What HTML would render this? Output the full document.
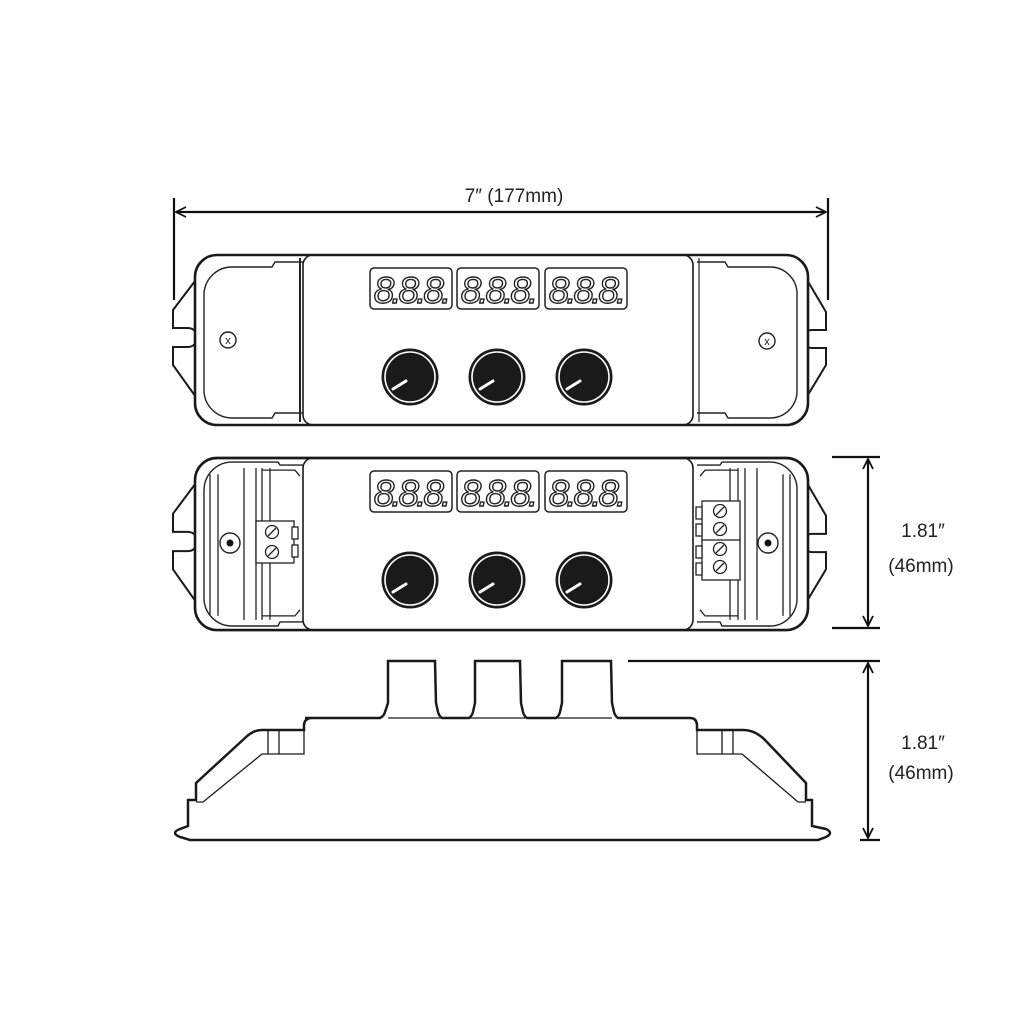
<!DOCTYPE html>
<html><head><meta charset="utf-8"><style>
html,body{margin:0;padding:0;background:#fff}
svg{display:block}
text{font-family:"Liberation Sans",sans-serif}
</style></head><body>
<svg width="1024" height="1024" viewBox="0 0 1024 1024" xmlns="http://www.w3.org/2000/svg">
<defs>
<marker id="ar" markerWidth="12" markerHeight="12" refX="11" refY="6" orient="auto-start-reverse" markerUnits="userSpaceOnUse">
<path d="M1,1 L11,6 L1,11" fill="none" stroke="#111" stroke-width="1.8"/>
</marker>
<g id="disp">
<rect x="0" y="0" width="82" height="41" rx="4" fill="#fff" stroke="#222" stroke-width="1.5"/>
<text x="41" y="35" text-anchor="middle" font-size="37" font-style="italic" fill="#fff" stroke="#222" stroke-width="1.4" letter-spacing="-3" transform="scale(1,1)">8.8.8.</text>
</g>
<g id="knob">
<circle r="28.5" fill="#1a1a1a"/>
<circle r="25" fill="none" stroke="#fff" stroke-width="1.6"/>
<circle r="22.5" fill="#1a1a1a"/>
<line x1="-4" y1="4" x2="-17" y2="12" stroke="#fff" stroke-width="3" stroke-linecap="round"/>
</g>
<g id="body" fill="none" stroke="#1a1a1a">
<path d="M198,22 L173,55 L173,73 L188,73 A9,9 0 0 1 188,92 L173,92 L173,110 L198,145" stroke-width="2"/>
<path d="M800,13 L826,57 L826,75 L812,75 A9,9 0 0 0 812,93 L826,93 L826,110 L800,153" stroke-width="2"/>
<rect x="195" y="0" width="613" height="170" rx="22" fill="#fff" stroke-width="2.6"/>
<rect x="303" y="0" width="390" height="170" rx="10" stroke-width="1.6"/>
</g>
</defs>

<!-- width dimension -->
<line x1="174" y1="198" x2="174" y2="300" stroke="#111" stroke-width="2.2"/>
<line x1="828" y1="198" x2="828" y2="300" stroke="#111" stroke-width="2.2"/>
<line x1="176" y1="212" x2="826" y2="212" stroke="#111" stroke-width="2.2" marker-start="url(#ar)" marker-end="url(#ar)"/>
<text x="514" y="202" text-anchor="middle" font-size="19" fill="#222">7″ (177mm)</text>

<!-- TOP VIEW -->
<g transform="translate(0,255)">
<use href="#body"/>
<path d="M303,7 L275,7 L272,12 L232,12 A28,28 0 0 0 204,40 L204,135 A28,28 0 0 0 232,163 L272,163 L275,158 L303,158" fill="none" stroke="#222" stroke-width="1.4"/>
<line x1="300" y1="3" x2="300" y2="167" stroke="#222" stroke-width="2"/>
<path d="M697,7 L725,7 L728,12 L770,12 A27,27 0 0 1 797,40 L797,135 A27,27 0 0 1 770,163 L728,163 L725,158 L697,158" fill="none" stroke="#222" stroke-width="1.4"/>
<line x1="699" y1="3" x2="699" y2="167" stroke="#222" stroke-width="1.2"/>
<circle cx="228" cy="85" r="8" fill="#fff" stroke="#222" stroke-width="1.4"/>
<text x="228" y="89" text-anchor="middle" font-size="11" fill="#222">x</text>
<circle cx="767" cy="86" r="8" fill="#fff" stroke="#222" stroke-width="1.4"/>
<text x="767" y="90" text-anchor="middle" font-size="11" fill="#222">x</text>
</g>
<use href="#disp" x="370" y="268"/>
<use href="#disp" x="457" y="268"/>
<use href="#disp" x="545" y="268"/>
<use href="#knob" x="410" y="377"/>
<use href="#knob" x="497" y="377"/>
<use href="#knob" x="584" y="377"/>

<!-- MIDDLE VIEW -->
<g transform="translate(0,458) scale(1,1.012)">
<use href="#body"/>
<path d="M303,7 L280,7 L278,4 L232,4 A28,28 0 0 0 204,32 L204,140 A28,28 0 0 0 232,166 L278,166 L280,162 L303,162" fill="none" stroke="#222" stroke-width="1.4"/>
<path d="M210,16 L210,156 M218,16 L218,156 M244,10 L244,160 M256,10 L256,160 M262,10 L262,160 M270,10 L270,160 M262,12 L295,12 L300,18 M262,156 L295,156 L300,150" fill="none" stroke="#222" stroke-width="1.3"/>
<path d="M697,7 L720,7 L722,4 L770,4 A27,27 0 0 1 797,32 L797,140 A27,27 0 0 1 770,166 L722,166 L720,162 L697,162" fill="none" stroke="#222" stroke-width="1.4"/>
<path d="M790,16 L790,156 M783,16 L783,156 M757,10 L757,160 M745,10 L745,160 M738,10 L738,160 M730,10 L730,160 M738,12 L705,12 L700,18 M738,156 L705,156 L700,150" fill="none" stroke="#222" stroke-width="1.3"/>
</g>
<circle cx="230" cy="543" r="10" fill="#fff" stroke="#222" stroke-width="1.4"/>
<circle cx="230" cy="543" r="3.5" fill="#111"/>
<circle cx="768" cy="543" r="10" fill="#fff" stroke="#222" stroke-width="1.4"/>
<circle cx="768" cy="543" r="3.5" fill="#111"/>
<g fill="#fff" stroke="#222" stroke-width="1.3">
<rect x="256" y="521" width="38" height="42"/>
<rect x="292" y="527" width="6" height="12"/>
<rect x="292" y="545" width="6" height="12"/>
<circle cx="272" cy="532" r="6.5"/><circle cx="272" cy="552" r="6.5"/>
<line x1="268" y1="536" x2="276" y2="528"/><line x1="268" y1="556" x2="276" y2="548"/>
</g>
<g fill="#fff" stroke="#222" stroke-width="1.3">
<rect x="702" y="501" width="38" height="40"/>
<rect x="702" y="540" width="38" height="40"/>
<rect x="696" y="507" width="6" height="12"/><rect x="696" y="524" width="6" height="12"/>
<rect x="696" y="546" width="6" height="12"/><rect x="696" y="563" width="6" height="12"/>
<circle cx="720" cy="511" r="6.5"/><circle cx="720" cy="529" r="6.5"/>
<circle cx="720" cy="549" r="6.5"/><circle cx="720" cy="567" r="6.5"/>
<line x1="716" y1="515" x2="724" y2="507"/><line x1="716" y1="533" x2="724" y2="525"/>
<line x1="716" y1="553" x2="724" y2="545"/><line x1="716" y1="571" x2="724" y2="563"/>
</g>
<use href="#disp" x="370" y="471"/>
<use href="#disp" x="457" y="471"/>
<use href="#disp" x="545" y="471"/>
<use href="#knob" x="410" y="580"/>
<use href="#knob" x="497" y="580"/>
<use href="#knob" x="584" y="580"/>

<!-- height dimension 1 -->
<line x1="832" y1="457" x2="880" y2="457" stroke="#111" stroke-width="2.2"/>
<line x1="832" y1="628" x2="880" y2="628" stroke="#111" stroke-width="2.2"/>
<line x1="868" y1="459" x2="868" y2="626" stroke="#111" stroke-width="2.2" marker-start="url(#ar)" marker-end="url(#ar)"/>
<text x="923" y="537" text-anchor="middle" font-size="19" fill="#222">1.81″</text>
<text x="921" y="572" text-anchor="middle" font-size="19" fill="#222">(46mm)</text>

<!-- SIDE VIEW -->
<g fill="none" stroke="#1a1a1a">
<path d="M305,718 L380,718 Q384,716 385,712 L388,703 L388,661 L435,661 L436,703 L438,712 Q439,716 442,718 L469,718 Q472,716 473,712 L475,703 L475,661 L520,661 L521,703 L523,712 Q524,716 527,718 L556,718 Q559,716 560,712 L562,703 L562,661 L611,661 L612,703 L614,712 Q615,716 618,718 L690,718 Q697,718 697,726 L697,730 L743,730 Q755,730 765,740 L806,783 L806,800 L812,800 L812,826 L826,829 Q834,833 826,837 L818,840 L190,840 L180,837 Q170,833 180,829 L188,826 L188,800 L196,800 L196,783 L245,738 Q253,730 262,730 L304,730 L304,726 Q304,718 312,718" stroke-width="2.5"/>
<path d="M304,730 L304,754 L262,754 L203,802 L196,802 M268,730 L268,754 M279,730 L279,754" stroke-width="1.3"/>
<path d="M697,730 L697,754 L742,754 L798,802 L806,802 M722,730 L722,754 M733,730 L733,754" stroke-width="1.3"/>
<line x1="388" y1="718" x2="612" y2="718" stroke-width="1.2"/>
</g>

<!-- height dimension 2 -->
<line x1="628" y1="661" x2="880" y2="661" stroke="#111" stroke-width="2.2"/>
<line x1="860" y1="840" x2="880" y2="840" stroke="#111" stroke-width="2.2"/>
<line x1="868" y1="663" x2="868" y2="838" stroke="#111" stroke-width="2.2" marker-start="url(#ar)" marker-end="url(#ar)"/>
<text x="923" y="749" text-anchor="middle" font-size="19" fill="#222">1.81″</text>
<text x="921" y="779" text-anchor="middle" font-size="19" fill="#222">(46mm)</text>
</svg>
</body></html>
